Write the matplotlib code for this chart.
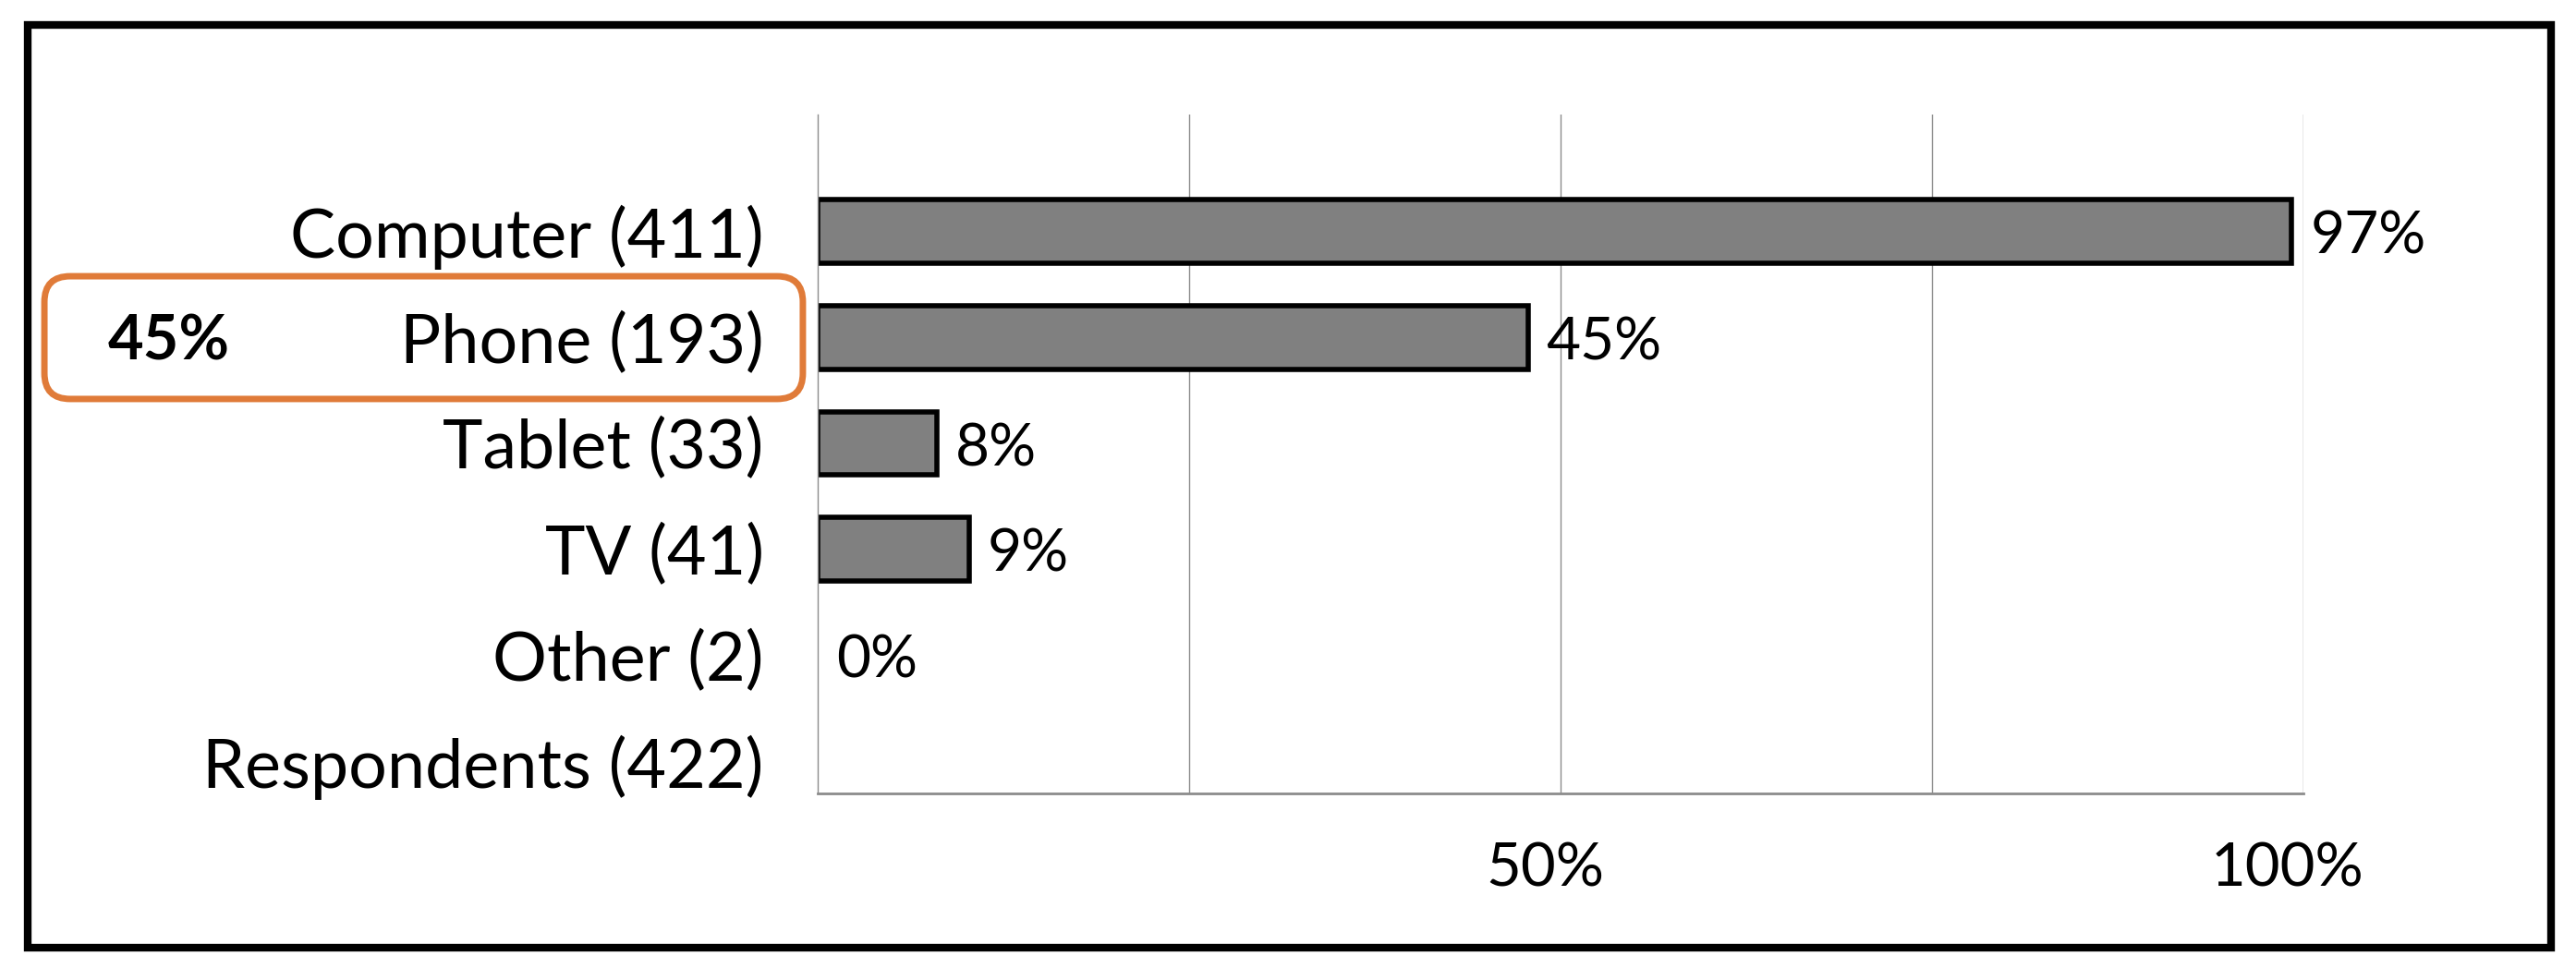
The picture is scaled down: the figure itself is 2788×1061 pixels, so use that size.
import matplotlib
matplotlib.use("Agg")
import matplotlib.pyplot as plt
from matplotlib.patches import Rectangle, FancyBboxPatch
from matplotlib.transforms import ScaledTranslation
import numpy as np

plt.rcParams['font.family'] = ['Lato', 'DejaVu Sans']

categories = ["Computer (411)", "Phone (193)", "Tablet (33)", "TV (41)", "Other (2)", "Respondents (422)"]
values = [99.2, 47.8, 8.0, 10.2, 0.0, np.nan]   # bar lengths (%)
value_labels = ["97%", "45%", "8%", "9%", "0%", ""]
grid_ticks = [0, 25, 50, 75, 100]
tick_positions = [50, 100]
tick_labels = ["50%", "100%"]
highlight_text = "45%"

W, H = 2788, 1061
fig = plt.figure(figsize=(W / 100, H / 100), dpi=100)
fig.patch.set_facecolor("white")

ax = fig.add_axes([885 / W, 1 - 859 / H, (2493 - 885) / W, (859 - 124) / H])
y = np.arange(len(categories))
ax.set_xlim(0, 100)
ax.set_ylim(5.3, -1.1)

for xv in grid_ticks[1:]:
    ax.axvline(xv, color="#8c8c8c", lw=1.0, zorder=0)

vals = np.array(values, dtype=float)
mask = ~np.isnan(vals) & (np.nan_to_num(vals) > 0)
ax.barh(y[mask], vals[mask], height=0.6, color="#808080", edgecolor="black", linewidth=4, zorder=2)

for yi, v, lab in zip(y, vals, value_labels):
    if lab:
        xv = 0 if np.isnan(v) else v
        ax.annotate(lab, xy=(xv, yi), xytext=(20, -6), textcoords="offset pixels",
                    ha="left", va="center", fontsize=46, color="black")

ax.set_yticks(y)
ax.set_yticklabels(categories, fontsize=53)
ax.tick_params(axis="y", length=0, pad=42)
ax.set_xticks(tick_positions)
ax.set_xticklabels(tick_labels, fontsize=47)
ax.tick_params(axis="x", length=0, pad=38)
for lbl in ax.get_xticklabels():
    lbl.set_transform(lbl.get_transform() + ScaledTranslation(-0.17, 0, fig.dpi_scale_trans))

for s in ["top", "right"]:
    ax.spines[s].set_visible(False)
ax.spines["left"].set_color("#8c8c8c")
ax.spines["left"].set_linewidth(1.0)
ax.spines["bottom"].set_color("#8c8c8c")
ax.spines["bottom"].set_linewidth(2.0)

# outer frame
frame = Rectangle((30 / W, 1 - 1026 / H), (2761 - 30) / W, (1026 - 27) / H,
                  transform=fig.transFigure, fill=False, edgecolor="black", linewidth=6)
fig.patches.append(frame)

# orange highlight box around Phone row
box = FancyBboxPatch((62 / W, 1 - 418 / H), (855 - 62) / W, (418 - 313) / H,
                     boxstyle="round,pad=0.005,rounding_size=0.010",
                     transform=fig.transFigure, fill=False, edgecolor="#E07B39", linewidth=5,
                     mutation_aspect=W / H)
fig.patches.append(box)
fig.text(183 / W, 1 - 370 / H, highlight_text, fontsize=48, fontweight="bold",
         ha="center", va="center", color="black")

fig.savefig("out.png", dpi=100, facecolor="white")
